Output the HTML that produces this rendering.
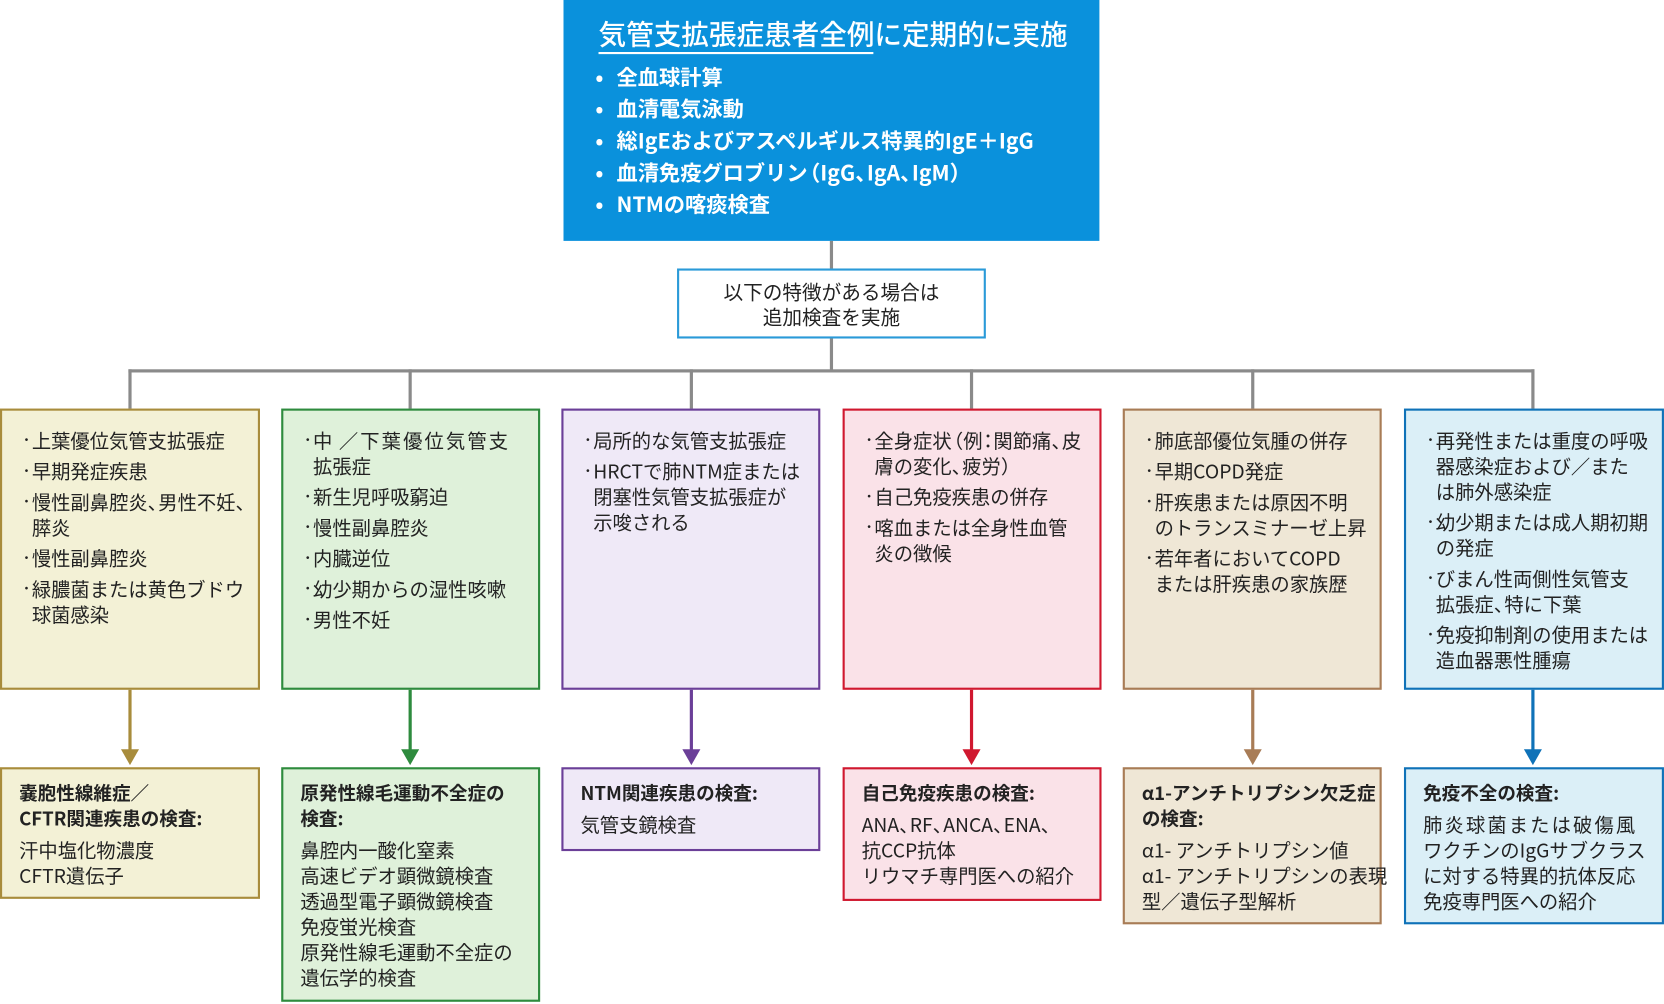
<!DOCTYPE html>
<html><head><meta charset="utf-8"><style>
html,body{margin:0;padding:0;background:#fff;width:1664px;height:1004px;overflow:hidden}
#w{position:absolute;left:0;top:0;width:1568px;height:946px;transform:scale(1.0612);transform-origin:0 0;font-family:"Noto Sans CJK JP","Liberation Sans",sans-serif;color:#222}
.a{position:absolute;box-sizing:border-box}
.top{left:531px;top:0;width:505px;height:227px;background:#0a91dc;color:#fff}
.top .t{position:absolute;left:33px;top:14px;font-size:26px;font-weight:500;line-height:36px;white-space:nowrap}
.top .u{position:absolute;left:33px;top:49px;width:259px;height:2px;background:#fff}
.top ul{position:absolute;left:30px;top:57px;margin:0;padding:0;list-style:none;font-size:20px;font-weight:bold;line-height:30px;white-space:nowrap}
.top li:before{content:"•";display:inline-block;width:20px}
.mid{left:638px;top:253px;width:291px;height:66px;border:2px solid #2a9ad8;background:#fff;text-align:center;font-size:18.5px;line-height:24px;padding-top:8px}
.gl{background:#8a8a8a}
.b{top:385px;height:265px;border:2px solid;padding:16px 4px 0 17px;font-size:18.2px;line-height:24px}
.b p{margin:0 0 5px 0;padding-left:11px;text-indent:-11px;white-space:nowrap}
.b p:before{content:"・";display:inline-block;width:11px;text-align:left;font-size:12px;vertical-align:top;text-indent:0}
.r{top:723px;border:2px solid;padding:11px 4px 0 16px;font-size:18.2px;line-height:24px;white-space:nowrap}
.r b{display:block;margin-bottom:5px;font-size:17.5px}
.c{letter-spacing:-0.45em}
.o{margin-left:-0.4em}
.m{margin:0 -0.22em}
</style></head><body><div id="w">
<div class="a top"><div class="t">気管支拡張症患者全例に定期的に実施</div><div class="u"></div>
<ul><li>全血球計算</li><li>血清電気泳動</li><li>総IgEおよびアスペルギルス特異的IgE＋IgG</li><li>血清免疫グロブリン<span class="o">（</span>IgG<span class="c">、</span>IgA<span class="c">、</span>IgM）</li><li>NTMの喀痰検査</li></ul></div>
<div class="a gl" style="left:782px;top:227px;width:3px;height:26px"></div>
<div class="a mid">以下の特徴がある場合は<br>追加検査を実施</div>
<div class="a gl" style="left:782px;top:319px;width:3px;height:31px"></div>
<div class="a gl" style="left:121px;top:348px;width:1325px;height:3px"></div>
<div class="a gl" style="left:121px;top:348px;width:3px;height:37px"></div>
<div class="a gl" style="left:385px;top:348px;width:3px;height:37px"></div>
<div class="a gl" style="left:650px;top:348px;width:3px;height:37px"></div>
<div class="a gl" style="left:914px;top:348px;width:3px;height:37px"></div>
<div class="a gl" style="left:1179px;top:348px;width:3px;height:37px"></div>
<div class="a gl" style="left:1443px;top:348px;width:3px;height:37px"></div>

<div class="a b" style="left:0;width:245px;background:#f3f1d6;border-color:#a88c3c">
<p>上葉優位気管支拡張症</p><p>早期発症疾患</p><p>慢性副鼻腔炎<span class="c">、</span>男性不妊<span class="c">、</span><br>膵炎</p><p>慢性副鼻腔炎</p><p>緑膿菌または黄色ブドウ<br>球菌感染</p></div>
<div class="a b" style="left:265px;width:244px;background:#dff1da;border-color:#2e8b3e">
<p>中<span style="letter-spacing:2px"> ／下葉優位気管支</span><br>拡張症</p><p>新生児呼吸窮迫</p><p>慢性副鼻腔炎</p><p>内臓逆位</p><p>幼少期からの湿性咳嗽</p><p>男性不妊</p></div>
<div class="a b" style="left:529px;width:244px;background:#efe9f7;border-color:#6b3f98">
<p>局所的な気管支拡張症</p><p>HRCTで肺NTM症または<br>閉塞性気管支拡張症が<br>示唆される</p></div>
<div class="a b" style="left:794px;width:244px;background:#fae2e8;border-color:#d0182f">
<p>全身症状<span class="o">（</span>例<span class="m">：</span>関節痛<span class="c">、</span>皮<br>膚の変化<span class="c">、</span>疲労）</p><p>自己免疫疾患の併存</p><p>喀血または全身性血管<br>炎の徴候</p></div>
<div class="a b" style="left:1058px;width:244px;background:#efe7d6;border-color:#a87c56">
<p>肺底部優位気腫の併存</p><p>早期COPD発症</p><p>肝疾患または原因不明<br>のトランスミナーゼ上昇</p><p>若年者においてCOPD<br>または肝疾患の家族歴</p></div>
<div class="a b" style="left:1323px;width:245px;background:#dbeff7;border-color:#0f72b8">
<p>再発性または重度の呼吸<br>器感染症および／また<br>は肺外感染症</p><p>幼少期または成人期初期<br>の発症</p><p>びまん性両側性気管支<br>拡張症<span class="c">、</span>特に下葉</p><p>免疫抑制剤の使用または<br>造血器悪性腫瘍</p></div>

<svg class="a" style="left:0;top:0" width="1568" height="946">
<g stroke-width="3">
<line x1="122.5" y1="650" x2="122.5" y2="708" stroke="#a88c3c"/><polygon points="114,706 131,706 122.5,721" fill="#a88c3c"/>
<line x1="386.5" y1="650" x2="386.5" y2="708" stroke="#2e8b3e"/><polygon points="378,706 395,706 386.5,721" fill="#2e8b3e"/>
<line x1="651.5" y1="650" x2="651.5" y2="708" stroke="#6b3f98"/><polygon points="643,706 660,706 651.5,721" fill="#6b3f98"/>
<line x1="915.5" y1="650" x2="915.5" y2="708" stroke="#d0182f"/><polygon points="907,706 924,706 915.5,721" fill="#d0182f"/>
<line x1="1180.5" y1="650" x2="1180.5" y2="708" stroke="#a87c56"/><polygon points="1172,706 1189,706 1180.5,721" fill="#a87c56"/>
<line x1="1444.5" y1="650" x2="1444.5" y2="708" stroke="#0f72b8"/><polygon points="1436,706 1453,706 1444.5,721" fill="#0f72b8"/>
</g></svg>

<div class="a r" style="left:0;width:245px;height:124px;background:#f3f1d6;border-color:#a88c3c"><b>嚢胞性線維症／<br>CFTR関連疾患の検査:</b>汗中塩化物濃度<br>CFTR遺伝子</div>
<div class="a r" style="left:265px;width:244px;height:221px;background:#dff1da;border-color:#2e8b3e"><b>原発性線毛運動不全症の<br>検査:</b>鼻腔内一酸化窒素<br>高速ビデオ顕微鏡検査<br>透過型電子顕微鏡検査<br>免疫蛍光検査<br>原発性線毛運動不全症の<br>遺伝学的検査</div>
<div class="a r" style="left:529px;width:244px;height:79px;background:#efe9f7;border-color:#6b3f98"><b>NTM関連疾患の検査:</b>気管支鏡検査</div>
<div class="a r" style="left:794px;width:244px;height:126px;background:#fae2e8;border-color:#d0182f"><b>自己免疫疾患の検査:</b>ANA<span class="c">、</span>RF<span class="c">、</span>ANCA<span class="c">、</span>ENA<span class="c">、</span><br>抗CCP抗体<br>リウマチ専門医への紹介</div>
<div class="a r" style="left:1058px;width:244px;height:148px;background:#efe7d6;border-color:#a87c56"><b>α1-アンチトリプシン欠乏症<br>の検査:</b>α1- アンチトリプシン値<br>α1- アンチトリプシンの表現<br>型／遺伝子型解析</div>
<div class="a r" style="left:1323px;width:245px;height:148px;background:#dbeff7;border-color:#0f72b8"><b>免疫不全の検査:</b><span style="letter-spacing:2px">肺炎球菌または破傷風</span><br>ワクチンのIgGサブクラス<br>に対する特異的抗体反応<br>免疫専門医への紹介</div>
</div></body></html>
